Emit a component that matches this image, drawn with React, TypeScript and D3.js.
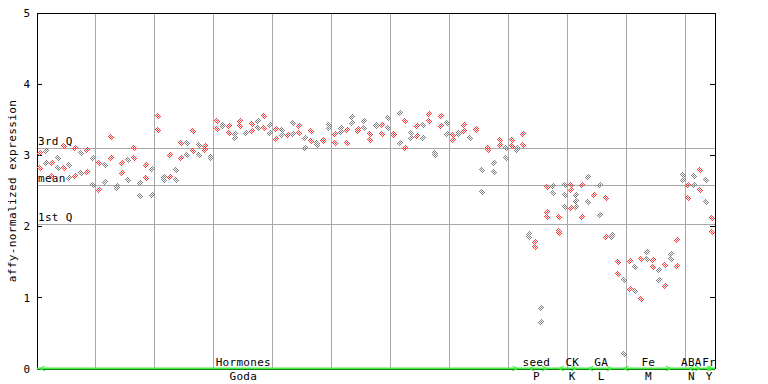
import * as d3 from "d3";

// expression per sample (replicates)
const sampleValues: number[][] = [
  [3.04, 2.82], [3.06, 2.89], [2.9, 2.71], [2.97, 2.82], [3.13, 2.82],
  [2.87, 2.68], [3.11, 2.71], [3.04, 2.75], [3.08, 2.76], [2.96, 2.59],
  [2.89, 2.51], [2.87, 2.63], [3.26, 2.97], [2.57, 2.54], [2.89, 2.75],
  [2.93, 2.66], [3.1, 2.96], [2.61, 2.43], [2.86, 2.68], [2.81, 2.45],
  [3.56, 3.35], [2.69, 2.65], [3.0, 2.7], [2.79, 2.66], [3.17, 2.97],
  [3.18, 3.01], [3.34, 3.06], [3.15, 3.01], [3.13, 3.07], [2.98, 2.97],
  [3.48, 3.37], [3.42, 3.41], [3.41, 3.32], [3.3, 3.24], [3.49, 3.41],
  [3.32, 3.31], [3.44, 3.34], [3.49, 3.38], [3.56, 3.39], [3.42, 3.32],
  [3.37, 3.23], [3.35, 3.28], [3.29, 3.28], [3.45, 3.3], [3.41, 3.32],
  [3.24, 3.11], [3.34, 3.2], [3.18, 3.14], [3.22, 3.2], [3.42, 3.39],
  [3.3, 3.17], [3.38, 3.33], [3.35, 3.18], [3.54, 3.45], [3.37, 3.34],
  [3.48, 3.38], [3.3, 3.21], [3.42, 3.41], [3.42, 3.3], [3.52, 3.39],
  [3.3, 3.29], [3.59, 3.17], [3.48, 3.1], [3.31, 3.25], [3.41, 3.27],
  [3.42, 3.24], [3.58, 3.49], [3.03, 3.0], [3.56, 3.41], [3.46, 3.3],
  [3.28, 3.21], [3.32, 3.3], [3.42, 3.34], [3.25, 3.24], [3.37, 3.36],
  [2.79, 2.48], [3.11, 3.08], [2.9, 2.76], [3.21, 3.14], [3.11, 2.97],
  [3.21, 3.13], [3.1, 3.07], [3.3, 3.14], [1.89, 1.85], [1.79, 1.72],
  [0.85, 0.66], [2.56, 2.2, 2.14], [2.57, 2.57, 2.47], [2.13, 1.94, 1.91], [2.59, 2.45, 2.27],
  [2.58, 2.52, 2.26], [2.44, 2.36, 2.27], [2.58, 2.14], [2.69, 2.34], [2.45],
  [2.59, 2.16], [2.4, 1.85], [1.88, 1.85], [1.5, 1.34], [1.25, 0.21],
  [1.51, 1.13], [1.43, 1.1], [1.55, 0.99], [1.64, 1.54], [1.53, 1.43],
  [1.39, 1.25], [1.46, 1.17], [1.61, 1.54], [1.81, 1.44], [2.73, 2.66],
  [2.58, 2.4], [2.71, 2.58], [2.8, 2.52], [2.66, 2.35], [2.12, 1.92],
];

const statLabels = ["3rd Q", "mean", "1st Q"];
const statValues = [3.1, 2.58, 2.03];

const groupTop = ["Hormones", "seed", "CK", "GA", "Fe", "ABA", "Fr"];
const groupBottom = ["Goda", "P", "K", "L", "M", "N", "Y"];
const groupStart = [0, 83, 88, 93, 99, 110, 113];
const groupEnd = [81, 86, 91, 97, 107, 112, 114];
const groupLabelAt = [34.5, 84.2, 90.3, 95.2, 103.2, 110.5, 113.5];

const yTicks = [0, 1, 2, 3, 4, 5];

const W = 768;
const H = 384;
const left = 37;
const right = 715;
const top = 13;
const bottom = 369;

const FONT = "'DejaVu Sans Mono', monospace";
const GRID = "#a8a8a8";
const GREEN = "#40f040";

export default function App() {
  const n = sampleValues.length;
  const x = d3.scaleLinear().domain([-0.5, n - 0.5]).range([left, right]);
  const y = d3.scaleLinear().domain([0, 5]).range([bottom, top]);

  const points = sampleValues.flatMap((vals, i) =>
    vals.map((v, j) => ({ i, v, key: `${i}-${j}`, tone: i % 2 === 0 ? "r" : "g" }))
  );

  const diamond = (cx: number, cy: number) => {
    const px = Math.round(cx);
    const py = Math.round(cy);
    return `M${px - 3.5},${py}L${px},${py - 3.5}L${px + 3.5},${py}L${px},${py + 3.5}Z`;
  };

  const vGrid = d3.range(10, n, 10);

  return (
    <div style={{ position: "absolute", left: 0, top: 0 }}>
      <svg width={W} height={H} style={{ display: "block", background: "#fff" }} fontFamily={FONT}>
        <defs>
          <pattern id="dotR" width={2} height={2} patternUnits="userSpaceOnUse">
            <rect x={0} y={0} width={1} height={1} fill="#ff3c3c" />
            <rect x={1} y={1} width={1} height={1} fill="#ff3c3c" />
          </pattern>
          <pattern id="dotG" width={2} height={2} patternUnits="userSpaceOnUse">
            <rect x={0} y={0} width={1} height={1} fill="#808080" />
            <rect x={1} y={1} width={1} height={1} fill="#808080" />
          </pattern>
        </defs>

        {/* vertical grid */}
        {vGrid.map((k) => (
          <line key={k} x1={x(k - 0.5)} x2={x(k - 0.5)} y1={top} y2={bottom}
            stroke={GRID} strokeWidth={1} shapeRendering="crispEdges" />
        ))}

        {/* quartile / mean lines */}
        {statValues.map((v, k) => (
          <g key={statLabels[k]}>
            <line x1={left} x2={right} y1={y(v)} y2={y(v)} stroke={GRID} strokeWidth={1} shapeRendering="crispEdges" />
            <text x={left + 1} y={y(v) - 3} fontSize={11} letterSpacing={0.3} fill="#000">{statLabels[k]}</text>
          </g>
        ))}

        {/* frame */}
        <line x1={left} x2={right} y1={top} y2={top} stroke="#000" shapeRendering="crispEdges" />
        <line x1={left} x2={left} y1={top} y2={bottom} stroke="#000" shapeRendering="crispEdges" />
        <line x1={right} x2={right} y1={top} y2={bottom} stroke="#000" shapeRendering="crispEdges" />
        <line x1={left} x2={right} y1={bottom} y2={bottom} stroke="#000" shapeRendering="crispEdges" />

        {/* y ticks */}
        {yTicks.map((t) => (
          <g key={t}>
            <line x1={left} x2={left + 5} y1={y(t)} y2={y(t)} stroke="#000" shapeRendering="crispEdges" />
            <line x1={right - 5} x2={right} y1={y(t)} y2={y(t)} stroke="#000" shapeRendering="crispEdges" />
            <text x={30} y={y(t)} dy="0.35em" textAnchor="end" fontSize={11} fill="#000">{t}</text>
          </g>
        ))}

        <text transform={`translate(12,${(top + bottom) / 2}) rotate(-90)`} textAnchor="middle"
          dy="0.35em" fontSize={11} letterSpacing={0.4} fill="#000">
          affy-normalized expression
        </text>

        {/* points */}
        {points.map((p) => (
          <path key={p.key} d={diamond(x(p.i), y(p.v))} fill={p.tone === "r" ? "url(#dotR)" : "url(#dotG)"}
            shapeRendering="crispEdges" />
        ))}

        {/* group bar */}
        <line x1={left} x2={right} y1={bottom - 0.5} y2={bottom - 0.5} stroke={GREEN} strokeWidth={2} />
        {groupTop.map((g, k) => {
          const xs = x(groupStart[k]);
          const xe = x(groupEnd[k]);
          const yb = bottom - 0.5;
          return (
            <g key={g}>
              <path d={`M${xs + 5},${yb - 2.5}L${xs},${yb}L${xs + 5},${yb + 2.5}`} fill="none" stroke={GREEN} strokeWidth={1} />
              <path d={`M${xe - 5},${yb - 2.5}L${xe},${yb}L${xe - 5},${yb + 2.5}`} fill="none" stroke={GREEN} strokeWidth={1} />
              <text x={x(groupLabelAt[k])} y={366} textAnchor="middle" fontSize={11} letterSpacing={0.3} fill="#000">{g}</text>
              <text x={x(groupLabelAt[k])} y={380} textAnchor="middle" fontSize={11} letterSpacing={0.3} fill="#000">{groupBottom[k]}</text>
            </g>
          );
        })}
      </svg>
    </div>
  );
}
